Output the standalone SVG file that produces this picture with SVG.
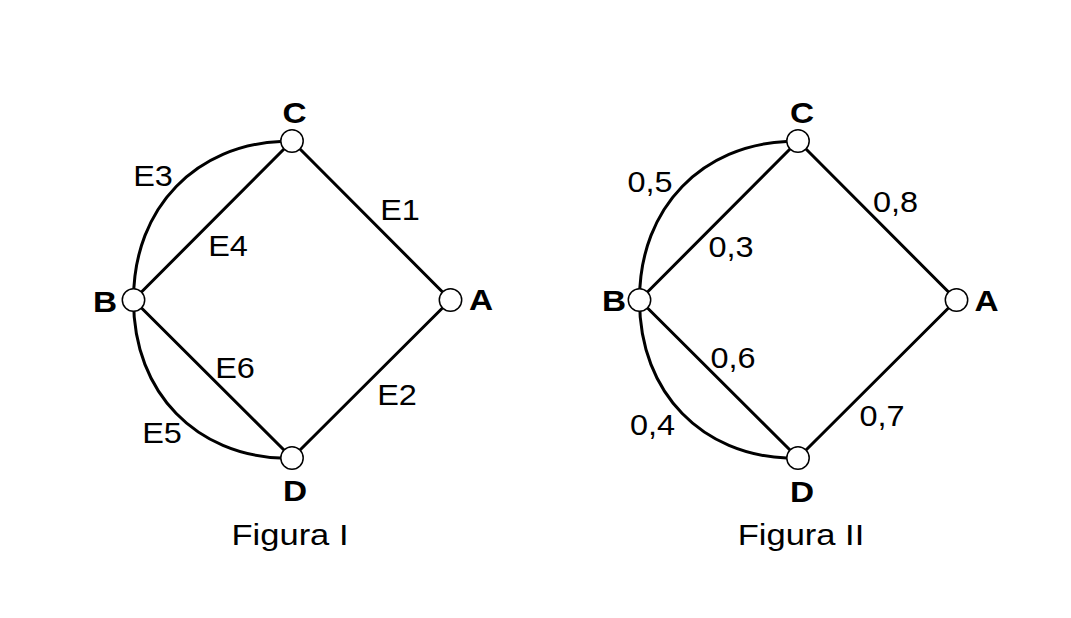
<svg xmlns="http://www.w3.org/2000/svg" width="1071" height="618" viewBox="0 0 1071 618">
<style>
.bg{fill:#fff}
.e{fill:none;stroke:#000;stroke-width:3;stroke-linecap:round}
.n{fill:#fff;stroke:#000;stroke-width:1.5}
text{font-family:"Liberation Sans",Arial,sans-serif;fill:#000;text-anchor:middle}
.lb{font-size:29px}
.nl{font-size:29px;font-weight:bold}
.cap{font-size:30px}
</style>
<rect class="bg" x="0" y="0" width="1071" height="618"/>

<!-- Figure I -->
<g id="fig1-connectors">
  <path class="e" d="M292,141 L450.5,300"/>
  <path class="e" d="M450.5,300 L292,458"/>
  <path class="e" d="M133.5,300 L292,141"/>
  <path class="e" d="M133.5,300 L292,458"/>
  <path class="e" d="M133.5,300 C133.5,205 198.5,145 280.5,141.5"/>
  <path class="e" d="M133.5,300 C133.5,395 198.5,455 280.5,458"/>
</g>
<g id="fig1-edge-labels">
  <text class="lb" transform="translate(153 186) scale(1.12 1)">E3</text>
  <text class="lb" transform="translate(228 256) scale(1.12 1)">E4</text>
  <text class="lb" transform="translate(400 219.5) scale(1.12 1)">E1</text>
  <text class="lb" transform="translate(235 377.5) scale(1.12 1)">E6</text>
  <text class="lb" transform="translate(162 442.5) scale(1.12 1)">E5</text>
  <text class="lb" transform="translate(397 405) scale(1.12 1)">E2</text>
</g>
<g id="fig1-node-C">
  <circle class="n" cx="292" cy="141" r="11.2"/>
  <text class="nl" transform="translate(294.5 123) scale(1.15 1)">C</text>
</g>
<g id="fig1-node-B">
  <circle class="n" cx="133.5" cy="300" r="11.2"/>
  <text class="nl" transform="translate(105 312) scale(1.15 1)">B</text>
</g>
<g id="fig1-node-A">
  <circle class="n" cx="450.5" cy="300" r="11.2"/>
  <text class="nl" transform="translate(481 310) scale(1.15 1)">A</text>
</g>
<g id="fig1-node-D">
  <circle class="n" cx="292" cy="458" r="11.2"/>
  <text class="nl" transform="translate(295 501) scale(1.15 1)">D</text>
</g>
<g id="fig1-caption">
  <text class="cap" transform="translate(290 544.5) scale(1.15 1)">Figura I</text>
</g>

<!-- Figure II -->
<g id="fig2-connectors">
  <path class="e" d="M798,141 L956.5,300"/>
  <path class="e" d="M956.5,300 L798,458"/>
  <path class="e" d="M639.5,300 L798,141"/>
  <path class="e" d="M639.5,300 L798,458"/>
  <path class="e" d="M639.5,300 C639.5,205 704.5,145 786.5,141.5"/>
  <path class="e" d="M639.5,300 C639.5,395 704.5,455 786.5,458"/>
</g>
<g id="fig2-edge-labels">
  <text class="lb" transform="translate(650 192) scale(1.12 1)">0,5</text>
  <text class="lb" transform="translate(731 257) scale(1.12 1)">0,3</text>
  <text class="lb" transform="translate(895.5 211.5) scale(1.12 1)">0,8</text>
  <text class="lb" transform="translate(733 368) scale(1.12 1)">0,6</text>
  <text class="lb" transform="translate(652.5 435) scale(1.12 1)">0,4</text>
  <text class="lb" transform="translate(882 426) scale(1.12 1)">0,7</text>
</g>
<g id="fig2-node-C">
  <circle class="n" cx="798" cy="141" r="11.2"/>
  <text class="nl" transform="translate(802 123) scale(1.15 1)">C</text>
</g>
<g id="fig2-node-B">
  <circle class="n" cx="639.5" cy="300" r="11.2"/>
  <text class="nl" transform="translate(614 311) scale(1.15 1)">B</text>
</g>
<g id="fig2-node-A">
  <circle class="n" cx="956.5" cy="300" r="11.2"/>
  <text class="nl" transform="translate(986.5 310.5) scale(1.15 1)">A</text>
</g>
<g id="fig2-node-D">
  <circle class="n" cx="798" cy="458" r="11.2"/>
  <text class="nl" transform="translate(802 501.5) scale(1.15 1)">D</text>
</g>
<g id="fig2-caption">
  <text class="cap" transform="translate(801 545) scale(1.15 1)">Figura II</text>
</g>
</svg>
